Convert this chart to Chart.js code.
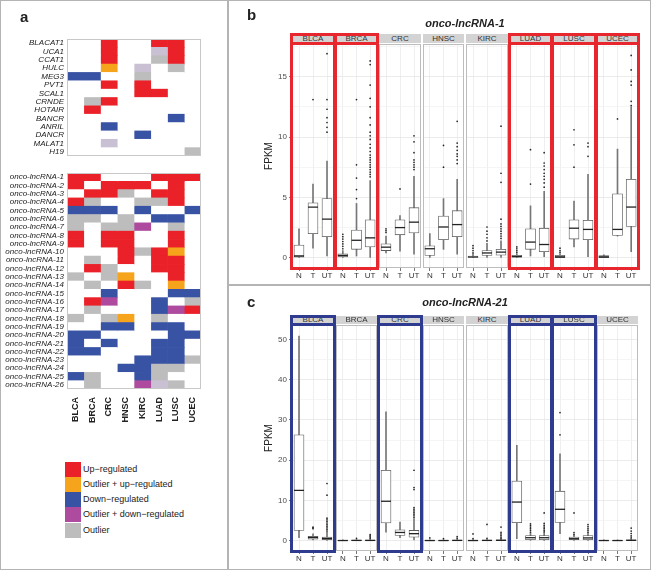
<!DOCTYPE html>
<html>
<head>
<meta charset="utf-8">
<script src="https://cdn.jsdelivr.net/npm/chart.js@4.4.1/dist/chart.umd.min.js"></script>
<style>
body { margin: 0; background: #fff; }
#fig { position: relative; width: 651px; height: 570px; overflow: hidden; font-family: 'Liberation Sans', Arial, sans-serif; color: #222; background: #fff; }
#fig canvas, #fig div { position: absolute; }
.rule { background: #b4b4b4; }
.strip { background: #d3d3d3; color: #333; font-size: 8px; text-align: center; }
.frame { box-sizing: border-box; border: 3px solid; }
.letter { font-weight: bold; font-size: 15px; line-height: 15px; }
.title { font-weight: bold; font-style: italic; font-size: 11px; line-height: 14px; text-align: center; }
.legtext { font-size: 9px; color: #222; white-space: nowrap; }
</style>
</head>
<body>
<div id="fig"></div>
<script>
// ---- data ----
const cancers = ['BLCA', 'BRCA', 'CRC', 'HNSC', 'KIRC', 'LUAD', 'LUSC', 'UCEC'];
const groups = ['N', 'T', 'UT'];

// heatmap status per gene, one letter per cancer (order as cancers)
// U up, A outlier+up, D down, B outlier+down, O outlier, L faint outlier, . none
const knownGenes = ['BLACAT1', 'UCA1', 'CCAT1', 'HULC', 'MEG3', 'PVT1', 'SCAL1', 'CRNDE', 'HOTAIR', 'BANCR', 'ANRIL', 'DANCR', 'MALAT1', 'H19'];
const knownStatus = ['..U..UU.', '..U..LU.', '..U..OU.', '..A.L.O.', 'DD..O...', '..U.U...', '....UU..',
    '.OU.....', '.U......', '......D.', '..D.....', '....D...', '..L.....', '.......O'];

const oncoGenes = ['onco-lncRNA-1', 'onco-lncRNA-2', 'onco-lncRNA-3', 'onco-lncRNA-4', 'onco-lncRNA-5', 'onco-lncRNA-6',
    'onco-lncRNA-7', 'onco-lncRNA-8', 'onco-lncRNA-9', 'onco-lncRNA-10', 'onco-lncRNA-11', 'onco-lncRNA-12',
    'onco-lncRNA-13', 'onco-lncRNA-14', 'onco-lncRNA-15', 'onco-lncRNA-16', 'onco-lncRNA-17', 'onco-lncRNA-18',
    'onco-lncRNA-19', 'onco-lncRNA-20', 'onco-lncRNA-21', 'onco-lncRNA-22', 'onco-lncRNA-23', 'onco-lncRNA-24',
    'onco-lncRNA-25', 'onco-lncRNA-26'];
const oncoStatus = ['UU...UUU', 'U.UUU.U.', '.UUO.UU.', 'UO..OOU.', 'DDD.D..D', 'OO.O.DD.', 'O.OOB.O.',
    'U.UU..U.', 'U.UU..U.', '...UOUA.', '.O.U.UU.', '.UO..UU.', 'O.OA..U.', '.O.UO.A.', '..D...DD',
    '.UB..D.O', '.O...DBU', 'O.OA.O..', '..DD.DD.', 'DD....DD', 'D.D..DD.', 'DD...DD.', '....DDDO',
    '...DDOO.', 'DO..DO..', '.O..BLO.'];

const statusColors = { U: '#ea2128', A: '#f7a41d', D: '#3953a4', B: '#ae4b9e', O: '#bdbdbd', L: '#c9c0d4', '.': '#ffffff' };
const legendCodes = ['U', 'A', 'D', 'B', 'O'];
const legendTexts = ['Up\u2212regulated', 'Outlier + up\u2212regulated', 'Down\u2212regulated', 'Outlier + down\u2212regulated', 'Outlier'];

// boxplots, 24 entries each: cancer x (N, T, UT)
const b_title = 'onco-lncRNA-1';
const b_marked = ['BLCA', 'BRCA', 'LUAD', 'LUSC', 'UCEC'];
const b_yTicks = [0, 5, 10, 15];
const b_low  = [0, 0.8, 0.15,  0, 0.15, 0,  0.4, 0.55, 0.3,  0, 0.7, 0.3,  0, 0, 0,  0, 0.15, 0.1,  0, 0.9, 0.1,  0, 1.8, 0.5];
const b_q1   = [0.05, 2.0, 1.75,  0.08, 0.7, 0.9,  0.6, 1.9, 2.05,  0.2, 1.5, 1.75,  0.05, 0.2, 0.22,  0.05, 0.7, 0.5,  0.02, 1.55, 1.5,  0.02, 1.85, 2.6];
const b_med  = [0.15, 4.2, 3.2,  0.2, 1.45, 1.65,  0.88, 2.5, 2.95,  0.75, 2.55, 2.75,  0.07, 0.4, 0.47,  0.1, 1.3, 1.1,  0.08, 2.45, 2.35,  0.08, 2.35, 4.2];
const b_q3   = [1.05, 4.55, 4.9,  0.33, 2.3, 3.15,  1.15, 3.15, 4.15,  1.0, 3.45, 3.9,  0.15, 0.6, 0.7,  0.2, 2.4, 2.45,  0.2, 3.15, 3.1,  0.18, 5.3, 6.5];
const b_high = [2.4, 6.1, 8.0,  0.6, 4.5, 6.4,  1.8, 3.5, 6.75,  2.0, 4.9, 6.5,  0.3, 1.2, 1.4,  0.35, 4.3, 5.5,  0.35, 4.7, 6.9,  0.25, 9.0, 12.5];
const b_out = [
    [], [13.1], [10.4, 10.8, 11.2, 11.6, 12.3, 13.1, 16.9],
    [0.75, 0.95, 1.15, 1.35, 1.55, 1.75, 1.95], [4.9, 5.65, 6.6, 7.7, 13.1],
    [6.7, 6.9, 7.1, 7.3, 7.5, 7.7, 7.9, 8.1, 8.3, 8.5, 8.8, 9.1, 9.4, 9.8, 10.1, 10.4, 11.0, 11.6, 12.5, 13.2, 14.3, 16.0, 16.3],
    [2.1, 2.25, 2.4], [5.7], [7.3, 7.5, 7.7, 7.9, 8.1, 8.7, 9.6, 10.1],
    [], [7.5, 9.3], [7.8, 8.1, 8.4, 8.6, 8.9, 9.2, 9.5, 11.3],
    [0.4, 0.6, 0.8, 1.0], [1.4, 1.65, 1.95, 2.2, 2.55], [1.6, 1.8, 2.0, 2.2, 2.4, 2.6, 2.8, 3.2, 6.25, 7.0, 10.9],
    [0.45, 0.6, 0.75, 0.9], [6.1, 8.95], [5.85, 6.2, 6.5, 6.75, 7.0, 7.3, 7.6, 7.85, 8.7],
    [0.45, 0.6, 0.8], [7.5, 9.35, 10.6], [8.4, 9.2, 9.5],
    [], [11.5], [12.6, 12.95, 14.3, 14.6, 15.55, 16.75]
];

const c_title = 'onco-lncRNA-21';
const c_marked = ['BLCA', 'CRC', 'LUAD', 'LUSC'];
const c_yTicks = [0, 10, 20, 30, 40, 50];
const c_low  = [0.75, 0.2, 0,  0, 0, 0,  2.15, 0.75, 0.2,  0, 0, 0,  0, 0, 0,  0.5, 0, 0,  1.75, 0, 0,  0, 0, 0];
const c_q1   = [2.55, 0.4, 0.25,  0.02, 0.03, 0.03,  4.4, 1.3, 0.9,  0.02, 0.02, 0.03,  0.02, 0.03, 0.05,  4.5, 0.25, 0.25,  4.55, 0.25, 0.25,  0.02, 0.02, 0.05];
const c_med  = [12.5, 0.8, 0.55,  0.05, 0.08, 0.08,  9.8, 2.05, 1.75,  0.05, 0.05, 0.08,  0.05, 0.08, 0.1,  9.6, 0.75, 0.75,  7.8, 0.5, 0.7,  0.05, 0.05, 0.1];
const c_q3   = [26.3, 1.1, 0.9,  0.1, 0.15, 0.15,  17.5, 2.7, 2.55,  0.1, 0.1, 0.15,  0.1, 0.15, 0.2,  14.8, 1.3, 1.3,  12.3, 0.9, 1.3,  0.1, 0.1, 0.2];
const c_high = [50.8, 1.7, 2.1,  0.2, 0.25, 0.3,  32.0, 4.6, 5.5,  0.2, 0.2, 0.3,  0.2, 0.3, 0.4,  23.7, 2.0, 2.0,  21.6, 1.3, 2.0,  0.2, 0.2, 0.4];
const c_out = [
    [], [3.0, 3.2, 3.4], [2.4, 2.8, 3.2, 3.6, 4.0, 4.4, 4.8, 5.2, 5.6, 11.3, 14.2],
    [], [0.6], [0.6, 0.9, 1.2, 1.5],
    [], [], [5.8, 6.2, 6.6, 7.0, 7.4, 7.8, 8.2, 12.7, 13.2, 17.5],
    [0.7], [0.5], [0.6, 1.0],
    [0.5, 1.7], [0.6, 4.05], [0.6, 0.9, 1.3, 1.7, 2.1, 3.4],
    [], [2.15, 2.6, 3.0, 3.4, 3.8, 4.2], [2.2, 2.6, 3.0, 3.4, 3.8, 4.3, 6.9],
    [26.3, 31.8], [1.5, 2.0, 6.9], [2.15, 2.6, 3.0, 3.5, 4.0],
    [], [], [0.7, 1.2, 1.8, 2.4, 3.15]
];

// ---- helpers ----
Chart.defaults.font.family = "'Liberation Sans', Arial, sans-serif";
Chart.defaults.color = '#333';

const fig = document.getElementById('fig');

function addDiv(cls, x, y, w, h, css) {
    const d = document.createElement('div');
    d.className = cls;
    Object.assign(d.style, { left: x + 'px', top: y + 'px', width: w + 'px', height: h + 'px' }, css || {});
    fig.appendChild(d);
    return d;
}

function addCanvas(x, y, w, h) {
    const c = document.createElement('canvas');
    c.width = w;
    c.height = h;
    Object.assign(c.style, { left: x + 'px', top: y + 'px', width: w + 'px', height: h + 'px' });
    fig.appendChild(c);
    return c;
}

// thin outline round the plotting area
const panelBorder = {
    id: 'panelBorder',
    afterDatasetsDraw(chart, args, opts) {
        const a = chart.chartArea, ctx = chart.ctx;
        ctx.save();
        ctx.strokeStyle = opts.color;
        ctx.lineWidth = opts.width;
        ctx.strokeRect(a.left + 0.5, a.top + 0.5, a.right - a.left - 1, a.bottom - a.top - 1);
        ctx.restore();
    }
};

const baseOptions = {
    responsive: false,
    animation: false,
    events: [],
    layout: { padding: 0, autoPadding: false }
};

// ---- panel a ----
function heatmap(top, height, genes, status, withCols) {
    const axisH = withCols ? 40 : 0;
    const cv = addCanvas(0, top, 201, height + axisH);
    new Chart(cv, {
        type: 'bar',
        data: {
            labels: genes,
            datasets: cancers.map((c, j) => ({
                label: c,
                data: genes.map(() => 1),
                backgroundColor: status.map(s => statusColors[s[j]]),
                borderWidth: 0,
                barPercentage: 1,
                categoryPercentage: 1
            }))
        },
        options: Object.assign({}, baseOptions, {
            indexAxis: 'y',
            plugins: { legend: { display: false }, tooltip: { enabled: false }, panelBorder: { color: '#c8c8c8', width: 1 } },
            scales: {
                x: {
                    stacked: true, min: 0, max: cancers.length, display: withCols, position: 'bottom',
                    grid: { display: false, drawTicks: false }, border: { display: false },
                    afterBuildTicks: s => { s.ticks = cancers.map((c, j) => ({ value: j + 0.5 })); },
                    ticks: {
                        autoSkip: false, minRotation: 90, maxRotation: 90, padding: 8, color: '#222',
                        font: { family: "'Liberation Sans Narrow', 'Liberation Sans', Arial, sans-serif", size: 9, weight: 'bold' },
                        callback: (v, i) => cancers[i]
                    },
                    afterFit: s => { s.height = axisH; s.paddingLeft = 0; s.paddingRight = 0; }
                },
                y: {
                    stacked: true,
                    grid: { display: false, drawTicks: false }, border: { display: false },
                    ticks: { autoSkip: false, padding: 3, color: '#222', font: { size: 8, style: 'italic' } },
                    afterFit: s => { s.width = 67; s.paddingTop = 0; s.paddingBottom = 0; }
                }
            }
        }),
        plugins: [panelBorder]
    });
}

heatmap(39, 117, knownGenes, knownStatus, false);
heatmap(173, 216, oncoGenes, oncoStatus, true);

legendCodes.forEach((code, k) => {
    const y = 461.7 + k * 15.2;
    addDiv('', 65, y, 16, 15.2, { background: statusColors[code] });
    addDiv('legtext', 83, y, 140, 15.2, { lineHeight: '15.2px' }).textContent = legendTexts[k];
});

// ---- panels b and c ----
const facetX0 = 292, facetPitch = 43.5, facetW = 41.5;

function boxPanel(p) {
    const step = p.yTicks[1] - p.yTicks[0];
    const minor = p.yTicks.map(v => v + step / 2).filter(v => v < p.max);
    const allTicks = p.yTicks.concat(minor).sort((a, b) => a - b);
    const isMajor = v => p.yTicks.includes(v);

    cancers.forEach((cancer, i) => {
        const fl = Math.round(facetX0 + i * facetPitch);
        const fw = Math.round(facetX0 + i * facetPitch + facetW) - fl;
        const first = i === 0;
        const axisW = first ? 34 : 0;

        const strip = addDiv('strip', fl, p.stripTop, fw, p.plotTop - p.stripTop - 1);
        strip.style.lineHeight = (p.plotTop - p.stripTop - 1) + 'px';
        strip.textContent = cancer;

        const k = i * 3;
        const idx = [k, k + 1, k + 2];
        const outs = [];
        idx.forEach((n, g) => p.out[n].forEach(v => outs.push({ x: groups[g], y: v })));

        const cv = addCanvas(fl - axisW, p.plotTop, fw + axisW, p.plotBottom - p.plotTop + 16);
        new Chart(cv, {
            type: 'bar',
            data: {
                labels: groups,
                datasets: [
                    { type: 'bar', data: idx.map(n => [p.low[n], p.high[n]]), backgroundColor: '#777', barThickness: 1, grouped: false, order: 4 },
                    { type: 'bar', data: idx.map(n => [p.q1[n], p.q3[n]]), backgroundColor: '#fff', borderColor: '#595959',
                      borderWidth: 0.8, borderSkipped: false, barThickness: 10, grouped: false, order: 3 },
                    { type: 'line', data: idx.map(n => p.med[n]), showLine: false, pointStyle: 'line', pointRadius: 5,
                      pointBorderWidth: 1.3, pointBorderColor: '#222', order: 2 },
                    { type: 'line', data: outs, showLine: false, pointRadius: 0.85, pointBackgroundColor: '#222',
                      pointBorderWidth: 0, order: 1 }
                ]
            },
            options: Object.assign({}, baseOptions, {
                plugins: { legend: { display: false }, tooltip: { enabled: false }, panelBorder: { color: '#bdbdbd', width: 1 } },
                scales: {
                    x: {
                        grid: { offset: false, color: '#ebebeb', lineWidth: 0.8, tickLength: 3, tickColor: '#555' },
                        border: { display: false },
                        ticks: { font: { size: 8 }, color: '#333', padding: 0, autoSkip: false, maxRotation: 0 },
                        afterFit: s => { s.height = 16; s.paddingLeft = 0; s.paddingRight = 0; }
                    },
                    y: {
                        min: p.min, max: p.max,
                        afterBuildTicks: s => { s.ticks = allTicks.map(v => ({ value: v })); },
                        ticks: { display: first, font: { size: 8 }, color: '#4d4d4d', padding: 2,
                                 callback: v => isMajor(v) ? v : '' },
                        grid: {
                            color: ctx => isMajor(ctx.tick.value) ? '#e6e6e6' : '#f3f3f3',
                            lineWidth: 0.8, drawTicks: first, tickLength: 3,
                            tickColor: ctx => isMajor(ctx.tick.value) ? '#555' : 'rgba(0,0,0,0)'
                        },
                        border: { display: false },
                        title: { display: first, text: 'FPKM', font: { size: 10 }, color: '#222', padding: { top: 5, bottom: 0 } },
                        afterFit: s => { s.width = axisW; s.paddingTop = 0; s.paddingBottom = 0; }
                    }
                }
            }),
            plugins: [panelBorder]
        });

        if (p.marked.includes(cancer)) {
            addDiv('frame', fl - 2, p.stripTop - 1, fw + 4, p.plotBottom + 2 - (p.stripTop - 1), { borderColor: p.markColor });
            addDiv('', fl - 2, p.plotTop - 2, fw + 4, 3, { background: p.markColor });
        }
    });

    addDiv('title', 365, p.titleTop, 200, 14).textContent = p.title;
}

boxPanel({
    title: b_title, titleTop: 16, stripTop: 34, plotTop: 44, plotBottom: 268, min: -0.845, max: 17.7,
    yTicks: b_yTicks, low: b_low, q1: b_q1, med: b_med, q3: b_q3, high: b_high, out: b_out,
    marked: b_marked, markColor: '#e8262d'
});
boxPanel({
    title: c_title, titleTop: 295, stripTop: 316, plotTop: 325, plotBottom: 551, min: -2.55, max: 53.55,
    yTicks: c_yTicks, low: c_low, q1: c_q1, med: c_med, q3: c_q3, high: c_high, out: c_out,
    marked: c_marked, markColor: '#2e3b8f'
});

// ---- frame lines and panel letters ----
addDiv('', 0, 0, 651, 570, { boxSizing: 'border-box', border: '1.5px solid #b4b4b4' });
addDiv('rule', 227, 0, 2, 570);
addDiv('rule', 228, 284, 423, 2);
addDiv('letter', 20, 9, 12, 15).textContent = 'a';
addDiv('letter', 247, 7, 12, 15).textContent = 'b';
addDiv('letter', 247, 294, 12, 15).textContent = 'c';
</script>
</body>
</html>
